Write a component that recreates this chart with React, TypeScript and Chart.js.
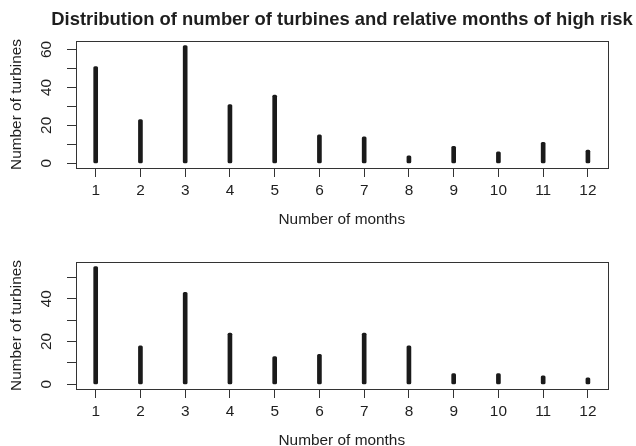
import React, { useEffect, useRef } from "react";
import { Chart, registerables } from "chart.js";

Chart.register(...registerables);

// ---- Data ----
const months = [1, 2, 3, 4, 5, 6, 7, 8, 9, 10, 11, 12];
const turbinesTop = [51, 23, 62, 31, 36, 15, 14, 4, 9, 6, 11, 7];
const turbinesBottom = [55, 18, 43, 24, 13, 14, 24, 18, 5, 5, 4, 3];
const yTicksTop = [0, 10, 20, 30, 40, 50, 60];
const yLabelsTop = [0, 20, 40, 60];
const yTicksBottom = [0, 10, 20, 30, 40, 50];
const yLabelsBottom = [0, 20, 40];
const chartTitle = "Distribution of number of turbines and relative months of high risk";
const xTitle = "Number of months";
const yTitle = "Number of turbines";

// ---- Layout constants ----
const W = 684;
const H = 232;
const AREA_TOP = 41;
const AREA_BOTTOM = 168;
const AREA_LEFT = 76;
const AREA_RIGHT = 607.6;
const FAMILY = "'Liberation Sans', Arial, Helvetica, sans-serif";
const TEXT = "#1e1e1e";
const LINE = "#333333";
const axisFont = { family: FAMILY, size: 15.4 };

const framePlugin = {
  id: "frame",
  afterDatasetsDraw(chart: any) {
    const { ctx, chartArea: a } = chart;
    ctx.save();
    ctx.strokeStyle = LINE;
    ctx.lineWidth = 1;
    ctx.strokeRect(
      Math.round(a.left) + 0.5,
      Math.round(a.top) + 0.5,
      Math.round(a.right) - Math.round(a.left),
      Math.round(a.bottom) - Math.round(a.top)
    );
    ctx.restore();
  },
};

function makeConfig(values: number[], yTicks: number[], yLabels: number[], showTitle: boolean): any {
  const maxV = Math.max(...values);
  const yMin = -0.04 * maxV;
  const yMax = maxV * 1.04;
  const span = months[months.length - 1] - months[0];
  const xMin = months[0] - 0.04 * span;
  const xMax = months[months.length - 1] + 0.04 * span;
  return {
    type: "bar",
    data: {
      datasets: [
        {
          data: months.map((m, i) => ({ x: m, y: values[i] })),
          backgroundColor: "#1a1a1a",
          borderWidth: 0,
          barThickness: 4,
          borderRadius: 1.5,
          borderSkipped: false,
        },
      ],
    },
    options: {
      responsive: false,
      animation: false,
      events: [],
      layout: { padding: { top: showTitle ? 0 : AREA_TOP, left: 0, right: 0, bottom: 0 } },
      plugins: {
        legend: { display: false },
        tooltip: { enabled: false },
        title: {
          display: showTitle,
          text: chartTitle,
          color: TEXT,
          font: { family: FAMILY, size: 18.4, weight: "bold" },
          padding: { top: 8.5, bottom: AREA_TOP - 8.5 - 18.4 * 1.2 },
        },
      },
      scales: {
        x: {
          type: "linear",
          min: xMin,
          max: xMax,
          offset: false,
          afterBuildTicks: (s: any) => {
            s.ticks = months.map((v) => ({ value: v }));
          },
          afterFit: (s: any) => {
            s.height = H - AREA_BOTTOM;
            s.paddingRight = W - AREA_RIGHT;
          },
          ticks: {
            font: axisFont,
            color: TEXT,
            padding: 4.8,
            minRotation: 0,
            maxRotation: 0,
            autoSkip: false,
            callback: (v: any) => String(v),
          },
          grid: { offset: false, drawOnChartArea: false, drawTicks: true, tickLength: 9, color: LINE },
          border: { display: false },
          title: {
            display: true,
            text: xTitle,
            color: TEXT,
            font: axisFont,
            padding: { top: 0, bottom: 3.5 },
          },
        },
        y: {
          type: "linear",
          min: yMin,
          max: yMax,
          afterBuildTicks: (s: any) => {
            s.ticks = yTicks.map((v) => ({ value: v }));
          },
          afterFit: (s: any) => {
            s.width = AREA_LEFT;
          },
          ticks: {
            font: axisFont,
            color: TEXT,
            padding: 11.4,
            minRotation: 90,
            maxRotation: 90,
            crossAlign: "center",
            autoSkip: false,
            callback: (v: any) => (yLabels.includes(v) ? String(v) : ""),
          },
          grid: { drawOnChartArea: false, drawTicks: true, tickLength: 9, color: LINE },
          border: { display: false },
          title: {
            display: true,
            text: yTitle,
            color: TEXT,
            font: axisFont,
            padding: { top: 7.5, bottom: 0 },
          },
        },
      },
    },
    plugins: [framePlugin],
  };
}

function Panel(props: { values: number[]; yTicks: number[]; yLabels: number[]; showTitle: boolean; top: number }) {
  const ref = useRef<HTMLCanvasElement | null>(null);
  useEffect(() => {
    if (!ref.current) return;
    const chart = new Chart(ref.current, makeConfig(props.values, props.yTicks, props.yLabels, props.showTitle));
    return () => chart.destroy();
  }, []);
  return (
    <div style={{ position: "absolute", left: 0, top: props.top, width: W, height: H }}>
      <canvas ref={ref} width={W} height={H} style={{ display: "block", width: W, height: H }} />
    </div>
  );
}

export default function App() {
  return (
    <div
      style={{
        position: "absolute",
        left: 0,
        top: 0,
        width: 636,
        height: 446,
        overflow: "hidden",
        background: "#ffffff",
      }}
    >
      <Panel values={turbinesTop} yTicks={yTicksTop} yLabels={yLabelsTop} showTitle={true} top={0} />
      <Panel values={turbinesBottom} yTicks={yTicksBottom} yLabels={yLabelsBottom} showTitle={false} top={221} />
    </div>
  );
}
